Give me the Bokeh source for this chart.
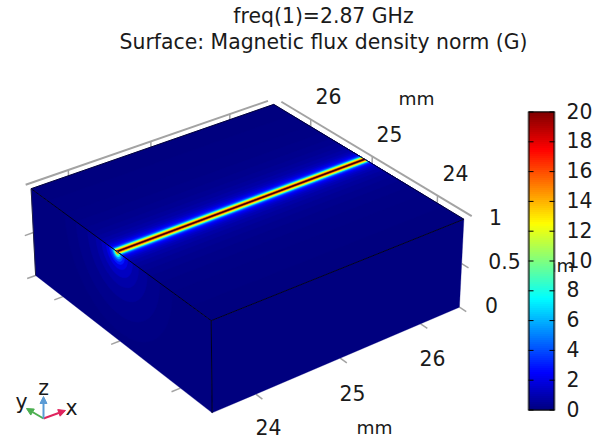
import numpy as np
from bokeh.plotting import figure
from bokeh.models import Range1d, Arrow, NormalHead
from bokeh.core.properties import value
from bokeh.embed import file_html
from bokeh.resources import INLINE

titles = ["freq(1)=2.87 GHz", "Surface: Magnetic flux density norm (G)"]
x_ticks = [24, 25, 26]
y_ticks = [24, 25, 26]
z_ticks = [0, 0.5, 1]
z_labels = ["0", "0.5", "1"]
cb_ticks = [0, 2, 4, 6, 8, 10, 12, 14, 16, 18, 20]
box_min, box_max = 23.5, 26.5
wire_y = 25.0
# magnetic flux density (G) against distance (mm) from the wire
strip_offset = [1.2, 0.9, 0.7, 0.55, 0.44, 0.35, 0.28, 0.22, 0.18, 0.15, 0.125, 0.105, 0.09,
                0.08, 0.07, 0.062, 0.056, 0.05, 0.044, 0.038, 0.032, 0.026, 0.02, 0.013]
strip_field = [0.05, 0.1, 0.18, 0.28, 0.4, 0.55, 0.75, 1.0, 1.3, 1.7, 2.2, 2.7, 3.3,
               4.0, 4.8, 6.0, 7.5, 9.0, 10.5, 12.0, 12.5, 13.5, 15.5, 20.0]
# glow on the x-min side face around the end of the wire
glow_radius = [0.9, 0.7, 0.5, 0.36, 0.26, 0.18, 0.13, 0.1, 0.075, 0.055, 0.04, 0.025]
glow_field = [0.1, 0.25, 0.5, 0.8, 1.3, 2.0, 3.0, 4.0, 5.5, 7.5, 10.0, 14.0]

# camera calibration: box corners (mm) and where they land on the page
corner_model = np.array([
    [23.5, 23.5, 1], [26.5, 23.5, 1], [23.5, 26.5, 1], [26.5, 26.5, 1],
    [23.5, 23.5, 0], [26.5, 23.5, 0], [23.5, 26.5, 0]], float)
corner_page = np.array([
    [210.7, 320.7], [463.3, 218.3], [30.7, 188.0], [273.3, 104.0],
    [211.7, 412.0], [459.0, 307.0], [35.0, 275.0]], float)


def calibrate():
    rows, rhs = [], []
    for (X, Y, Z), (u, v) in zip(corner_model - [25, 25, 0], corner_page):
        rows.append([X, Y, Z, 1, 0, 0, 0, 0, -u * X, -u * Y, -u * Z])
        rhs.append(u)
        rows.append([0, 0, 0, 0, X, Y, Z, 1, -v * X, -v * Y, -v * Z])
        rhs.append(v)
    sol = np.linalg.lstsq(np.array(rows), np.array(rhs), rcond=None)[0]
    return np.append(sol, 1).reshape(3, 4)


CAM = calibrate()


def proj(x, y, z):
    x, y, z = np.broadcast_arrays(np.asarray(x, float), np.asarray(y, float), np.asarray(z, float))
    h = CAM @ np.vstack([x.ravel() - 25, y.ravel() - 25, z.ravel(), np.ones(x.size)])
    return h[0] / h[2], h[1] / h[2]


def jet(v):
    t = np.clip(v / 20.0, 0, 1)
    r = np.clip(np.minimum(4 * t - 1.5, -4 * t + 4.5), 0, 1)
    g = np.clip(np.minimum(4 * t - 0.5, -4 * t + 3.5), 0, 1)
    b = np.clip(np.minimum(4 * t + 0.5, -4 * t + 2.5), 0, 1)
    return "#%02x%02x%02x" % (int(r * 255), int(g * 255), int(b * 255))


p = figure(width=600, height=440, x_range=Range1d(0, 600), y_range=Range1d(440, 0),
           output_backend="svg", toolbar_location=None, min_border=0,
           x_axis_location=None, y_axis_location=None, outline_line_color=None,
           background_fill_color="white", border_fill_color="white")
p.grid.visible = False
FONT = value("DejaVu Sans")
cb_px = 298 / 20.0
p.extra_y_ranges["cb"] = Range1d((409.5 - 440) / cb_px, 409.5 / cb_px)


def line3(a, b, color, width=1.0):
    xs, ys = proj([a[0], b[0]], [a[1], b[1]], [a[2], b[2]])
    p.line(xs, ys, line_color=color, line_width=width)


def face(xs, ys, zs, color):
    u, v = proj(xs, ys, zs)
    p.patch(u, v, fill_color=color, line_color=color, line_width=0.3)


GRAY = "#a3a3a3"
d = 0.1
lo, hi = box_min, box_max
# axis frames behind the box
line3((lo, hi + d, 1), (hi, hi + d, 1), GRAY, 2)
line3((hi + d, lo, 1), (hi + d, hi, 1), GRAY, 2)
for t in x_ticks:
    line3((t, hi + d, 1), (t, hi + d, 0.92), GRAY, 1.5)
    line3((t, lo, 0), (t, lo - d, 0), GRAY, 1.5)
for t in y_ticks:
    line3((hi + d, t, 1), (hi + d, t, 0.92), GRAY, 1.5)
    line3((lo, t, 0), (lo - d, t, 0), GRAY, 1.5)
for t in z_ticks[:2]:
    line3((lo, hi, t), (lo - d, hi, t), GRAY, 1.5)
for t in z_ticks[:2]:
    line3((hi, lo, t), (hi, lo - d, t), GRAY, 1.5)

# faces
BASE = jet(0.0)
face([lo, hi, hi, lo], [lo, lo, hi, hi], [1, 1, 1, 1], BASE)
face([lo, lo, lo, lo], [lo, hi, hi, lo], [1, 1, 0, 0], BASE)
face([lo, hi, hi, lo], [lo, lo, lo, lo], [1, 1, 0, 0], BASE)

# field on the top face: nested strips along the wire
for off, val in zip(strip_offset, strip_field):
    face([lo, hi, hi, lo],
         [max(lo, wire_y - off), max(lo, wire_y - off), min(hi, wire_y + off), min(hi, wire_y + off)],
         [1, 1, 1, 1], jet(val))
line3((lo, wire_y, 1), (hi, wire_y, 1), "#3a0800", 1)

# glow on the side face
ang = np.linspace(np.pi, 2 * np.pi, 49)
for r, val in zip(glow_radius, glow_field):
    face(np.full(ang.size, lo), np.clip(wire_y + r * np.cos(ang), lo, hi),
         np.clip(1 + r * np.sin(ang), 0, 1), jet(val))

# box edges
EDGE = "#00001e"
line3((lo, lo, 1), (hi, lo, 1), EDGE, 1)
line3((lo, lo, 1), (lo, hi, 1), EDGE, 1)
line3((lo, lo, 1), (lo, lo, 0), EDGE, 1)
line3((lo, hi, 1), (lo, hi, 0), "#222244", 1)
line3((lo, hi, 1), (hi, hi, 1), "#00003a", 1)
line3((hi, lo, 1), (hi, hi, 1), "#00003a", 1)


def label(x, y, s, size="20.4px", **kw):
    p.text([x], [y], text=[s], text_font=FONT, text_font_size=value(size),
           text_align="center", text_baseline="middle", text_color="#1a1a1a", **kw)


# texts
label(323, 15, titles[0])
label(323, 41, titles[1])
for t, (lx, ly) in zip(y_ticks, [(455, 172.5), (389, 133), (328, 95.5)]):
    label(lx, ly, str(t))
for t, (lx, ly) in zip(x_ticks, [(268, 426.5), (352, 392), (432, 357)]):
    label(lx, ly, str(t))
for s, (lx, ly) in zip(z_labels, [(491, 304.5), (504, 260.5), (495, 216.5)]):
    label(lx, ly, s)
label(416, 98, "mm", "18.5px")
label(374, 427, "mm", "18.5px")
label(556, 265, "mm", "18.5px")

# colour bar
edges = np.linspace(0, 20, 150)
p.quad(left=528, right=554, bottom=edges[:-1], top=edges[1:],
       fill_color=[jet(v) for v in (edges[:-1] + edges[1:]) / 2], line_color=None, y_range_name="cb")
p.quad(left=[527.5], right=[554.5], bottom=[-0.03], top=[20.03], fill_color=None,
       line_color="#8a8a8a", line_width=1, y_range_name="cb")
p.quad(left=[528.5], right=[553.5], bottom=[0], top=[20], fill_color=None,
       line_color="black", line_width=1, y_range_name="cb")
p.segment(x0=[528] * len(cb_ticks), x1=[533] * len(cb_ticks), y0=cb_ticks, y1=cb_ticks,
          line_color="black", line_width=1, y_range_name="cb")
p.segment(x0=[549] * len(cb_ticks), x1=[554] * len(cb_ticks), y0=cb_ticks, y1=cb_ticks,
          line_color="black", line_width=1, y_range_name="cb")
p.text([566] * len(cb_ticks), [t + 0.1 for t in cb_ticks], text=[str(t) for t in cb_ticks], text_font=FONT,
       text_font_size=value("20.4px"), text_align="left", text_baseline="middle",
       text_color="#1a1a1a", y_range_name="cb")

# orientation triad
for tip, col in [((65, 410), "#e0245e"), ((26, 408), "#4caf50"), ((43, 396), "#5b9bd5")]:
    p.add_layout(Arrow(x_start=43, y_start=418, x_end=tip[0], y_end=tip[1],
                       line_color=col, line_width=2,
                       end=NormalHead(size=7, fill_color=col, line_color=col)))
label(71, 407, "x")
label(21, 401, "y")
label(43, 387, "z")

open("out.html", "w").write(file_html(p, INLINE))
